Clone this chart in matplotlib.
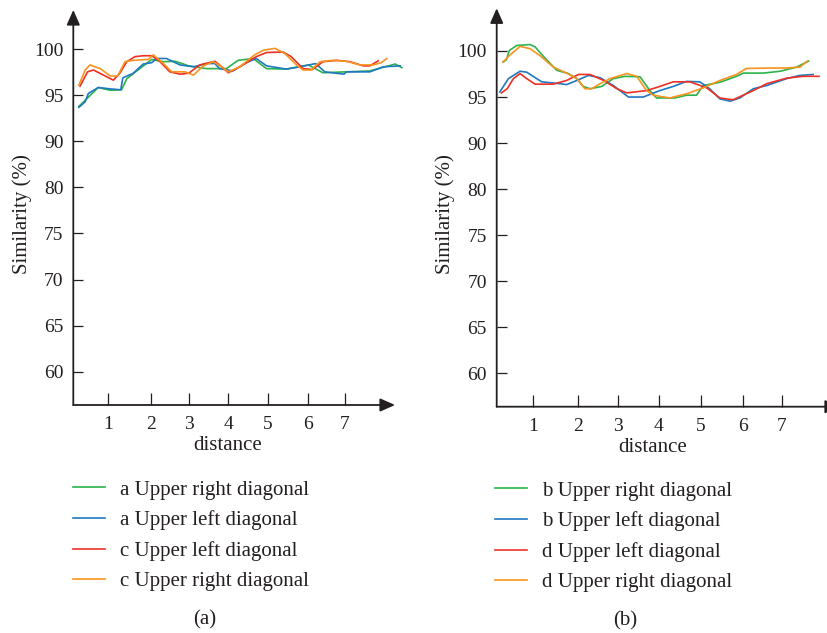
import numpy as np
import matplotlib
matplotlib.use("Agg")
import matplotlib.pyplot as plt

plt.rcParams['font.family'] = ['Liberation Serif', 'DejaVu Serif']

# ---- data ----
# panel (a)
a_ur_x = [0.27, 0.51, 0.76, 1.06, 1.32, 1.44, 1.74, 2.02, 2.33, 2.64, 3.0, 3.45, 3.95, 4.25, 4.63,
          4.97, 5.46, 6.0, 6.4, 7.0, 7.63, 8.27, 8.44]
a_ur_y = [93.8, 94.8, 95.85, 95.55, 95.6, 96.8, 97.9, 98.9, 98.65, 98.7, 98.2, 97.9, 97.9, 98.8, 99.0,
          97.9, 97.85, 98.3, 97.45, 97.55, 97.65, 98.4, 98.0]
a_ul_x = [0.27, 0.43, 0.51, 0.76, 1.06, 1.3, 1.35, 1.59, 1.82, 2.02, 2.15, 2.41, 2.77, 3.12, 3.45,
          3.66, 3.78, 4.12, 4.46, 4.71, 4.97, 5.46, 5.8, 6.2, 6.45, 6.97, 7.04, 7.63, 7.97, 8.4]
a_ul_y = [93.7, 94.3, 95.2, 95.85, 95.7, 95.6, 96.9, 97.4, 98.4, 98.55, 99.0, 99.0, 98.3, 98.1, 98.45,
          98.45, 97.9, 97.65, 98.55, 99.0, 98.2, 97.85, 98.1, 98.45, 97.55, 97.3, 97.55, 97.55, 98.1, 98.2]
c_ul_x = [0.3, 0.49, 0.64, 1.13, 1.28, 1.44, 1.63, 1.82, 2.02, 2.24, 2.5, 2.77, 3.0, 3.28, 3.66,
          3.78, 4.0, 4.29, 4.71, 4.97, 5.38, 5.58, 5.87, 6.11, 6.4, 6.78, 7.13, 7.46, 7.63, 7.84]
c_ul_y = [96.0, 97.55, 97.75, 96.65, 97.4, 98.65, 99.2, 99.3, 99.3, 98.65, 97.55, 97.3, 97.4, 98.3, 98.7,
          98.3, 97.45, 98.1, 99.2, 99.65, 99.7, 99.2, 97.9, 97.8, 98.65, 98.8, 98.65, 98.2, 98.2, 98.75]
c_ur_x = [0.27, 0.43, 0.55, 0.81, 1.06, 1.23, 1.4, 1.59, 1.94, 2.06, 2.33, 2.55, 2.9, 3.12, 3.37,
          3.62, 3.83, 4.0, 4.29, 4.67, 4.89, 5.18, 5.42, 5.71, 5.87, 6.08, 6.32, 6.68, 7.04, 7.38,
          7.71, 7.92, 8.06]
c_ur_y = [96.1, 97.75, 98.3, 97.9, 97.1, 97.1, 98.65, 98.8, 98.9, 99.4, 98.45, 97.55, 97.55, 97.2, 98.2,
          98.65, 98.1, 97.55, 98.1, 99.4, 99.9, 100.1, 99.55, 98.3, 97.75, 97.75, 98.65, 98.8, 98.7, 98.3,
          98.3, 98.55, 99.0]

# panel (b)
b_ur_x = [0.27, 0.35, 0.42, 0.6, 0.92, 1.04, 1.23, 1.53, 1.79, 1.98, 2.14, 2.31, 2.6, 2.89, 3.18,
          3.54, 3.78, 3.94, 4.38, 4.66, 4.9, 5.06, 5.45, 5.84, 6.0, 6.52, 6.96, 7.36, 7.65]
b_ur_y = [98.8, 99.05, 100.05, 100.6, 100.7, 100.45, 99.4, 97.9, 97.55, 97.0, 96.15, 95.9, 96.15, 97.0, 97.25,
          97.2, 95.7, 94.9, 94.9, 95.2, 95.2, 96.25, 96.6, 97.25, 97.6, 97.6, 97.8, 98.25, 98.9]
b_ul_x = [0.19, 0.4, 0.68, 0.84, 1.19, 1.6, 1.75, 1.98, 2.27, 2.56, 2.89, 3.26, 3.62, 4.02, 4.34,
          4.66, 4.98, 5.21, 5.45, 5.69, 5.92, 6.26, 6.61, 7.12, 7.44, 7.76]
b_ul_y = [95.55, 97.0, 97.8, 97.7, 96.65, 96.45, 96.35, 96.8, 97.35, 97.1, 96.25, 95.0, 95.0, 95.7, 96.15,
          96.7, 96.65, 95.9, 94.8, 94.55, 94.9, 95.9, 96.25, 97.0, 97.35, 97.45]
d_ul_x = [0.23, 0.37, 0.52, 0.68, 0.84, 1.04, 1.45, 1.75, 2.02, 2.31, 2.65, 2.98, 3.22, 3.7, 4.02,
          4.34, 4.74, 5.14, 5.45, 5.76, 6.26, 6.61, 7.12, 7.52, 7.9]
d_ul_y = [95.45, 95.9, 97.0, 97.55, 97.0, 96.4, 96.4, 96.8, 97.45, 97.45, 96.8, 95.9, 95.45, 95.7, 96.15,
          96.65, 96.65, 96.0, 94.9, 94.7, 95.7, 96.45, 97.05, 97.25, 97.25]
d_ur_x = [0.27, 0.42, 0.68, 0.92, 1.15, 1.45, 1.75, 1.98, 2.18, 2.35, 2.56, 2.81, 3.22, 3.46, 3.7,
          3.86, 4.26, 4.66, 5.06, 5.45, 5.84, 6.08, 6.69, 7.12, 7.44, 7.62]
d_ur_y = [98.8, 99.5, 100.5, 100.25, 99.5, 98.25, 97.6, 97.0, 95.9, 95.9, 96.45, 97.0, 97.55, 97.25, 95.7,
          95.2, 94.9, 95.35, 96.0, 96.8, 97.45, 98.1, 98.15, 98.15, 98.25, 98.9]

y_ticks = [60, 65, 70, 75, 80, 90, 95, 100]
x_ticks = [1, 2, 3, 4, 5, 6, 7]

labels_a = ['a Upper right diagonal', 'a Upper left diagonal', 'c Upper left diagonal', 'c Upper right diagonal']
labels_b = ['b Upper right diagonal', 'b Upper left diagonal', 'd Upper left diagonal', 'd Upper right diagonal']
colors = ['#2bb34a', '#1f78c1', '#ee3124', '#f7931e']

# y axis: ticks are equally spaced even though the values are not
y_nodes = [55, 60, 65, 70, 75, 80, 90, 95, 100, 105]
y_pos = [-1, 0, 1, 2, 3, 4, 5, 6, 7, 8]

ink = '#231f20'
W, H = 828, 633
fig = plt.figure(figsize=(W / 100, H / 100), dpi=100)


def make_panel(left_px, axis_px, top_px, right_px, x_off, unit, arrow_end_px, series, labels,
               leg_px, tag, tag_px):
    ax = fig.add_axes([left_px / W, 1 - axis_px / H, (right_px - left_px) / W, (axis_px - top_px) / H])
    d_nodes = [0, 1, 2, 3, 4, 5, 6, 7, 9]
    x_nodes = [x_off[0] - unit] + list(x_off) + [x_off[-1] + 2 * unit]
    fx = lambda d: np.interp(d, d_nodes, x_nodes)
    ix = lambda p: np.interp(p, x_nodes, d_nodes)
    fy = lambda v: np.interp(v, y_nodes, y_pos)
    iy = lambda p: np.interp(p, y_pos, y_nodes)
    ax.set_xscale('function', functions=(fx, ix))
    ax.set_yscale('function', functions=(fy, iy))

    for (xs, ys), c, lab in zip(series, colors, labels):
        ax.plot(xs, ys, color=c, lw=1.2, label=lab, clip_on=False)

    ax.set_xlim(ix(0), ix(right_px - left_px))
    step = (371.7 - 49.3) / 7
    ax.set_ylim(iy(-33.4 / step), iy(7 + (49.3 + (axis_px - 405) - top_px) / step))
    ax.set_xticks(x_ticks)
    ax.set_yticks(y_ticks)
    ax.minorticks_off()
    ax.tick_params(axis='y', direction='in', length=7.5, width=0.9, color=ink, labelsize=14,
                   labelcolor=ink, pad=7)
    ax.tick_params(axis='x', direction='in', length=8.5, width=0.9, color=ink, labelsize=14,
                   labelcolor=ink, pad=8)
    for s in ax.spines.values():
        s.set_visible(False)
    ax.patch.set_alpha(0)

    aprops = dict(arrowstyle='-|>,head_length=0.45,head_width=0.2', color=ink, lw=1.3,
                  shrinkA=0, shrinkB=0, mutation_scale=20)
    ax.annotate('', xy=(0, 1), xytext=(0, 0), xycoords='axes fraction', arrowprops=aprops,
                annotation_clip=False)
    ax.annotate('', xy=((arrow_end_px - left_px) / (right_px - left_px), 0), xytext=(0, 0),
                xycoords='axes fraction', arrowprops=aprops, annotation_clip=False)

    ax.set_xlabel('distance', fontsize=15, color=ink)
    ax.xaxis.set_label_coords((228 - 73.3) / (402 - 73.3), -0.078)
    ax.set_ylabel('Similarity (%)', fontsize=15, color=ink)
    ax.yaxis.set_label_coords(-0.125, 0.483)

    ax.legend(loc='upper left', bbox_to_anchor=(leg_px[0] / W, 1 - leg_px[1] / H),
              bbox_transform=fig.transFigure, frameon=False, fontsize=15, handlelength=1.55,
              handletextpad=0.7, labelspacing=0.52, borderaxespad=0, borderpad=0,
              labelcolor=ink)
    fig.text(tag_px[0] / W, 1 - tag_px[1] / H, tag, ha='center', va='center', fontsize=15, color=ink)
    return ax


make_panel(73.3, 405, 10, 402,
           [34.4, 77.7, 115.4, 155, 194.4, 235, 271.7], 39.5, 395,
           [(a_ur_x, a_ur_y), (a_ul_x, a_ul_y), (c_ul_x, c_ul_y), (c_ur_x, c_ur_y)], labels_a,
           (73, 480), '(a)', (205, 620))
make_panel(496.7, 406.7, 8.3, 828,
           [36.6, 81, 121, 162.3, 204, 246.6, 285], 41.4, 840,
           [(b_ur_x, b_ur_y), (b_ul_x, b_ul_y), (d_ul_x, d_ul_y), (d_ur_x, d_ur_y)], labels_b,
           (495, 481), '(b)', (625, 621))

fig.savefig('out.png', dpi=100)
